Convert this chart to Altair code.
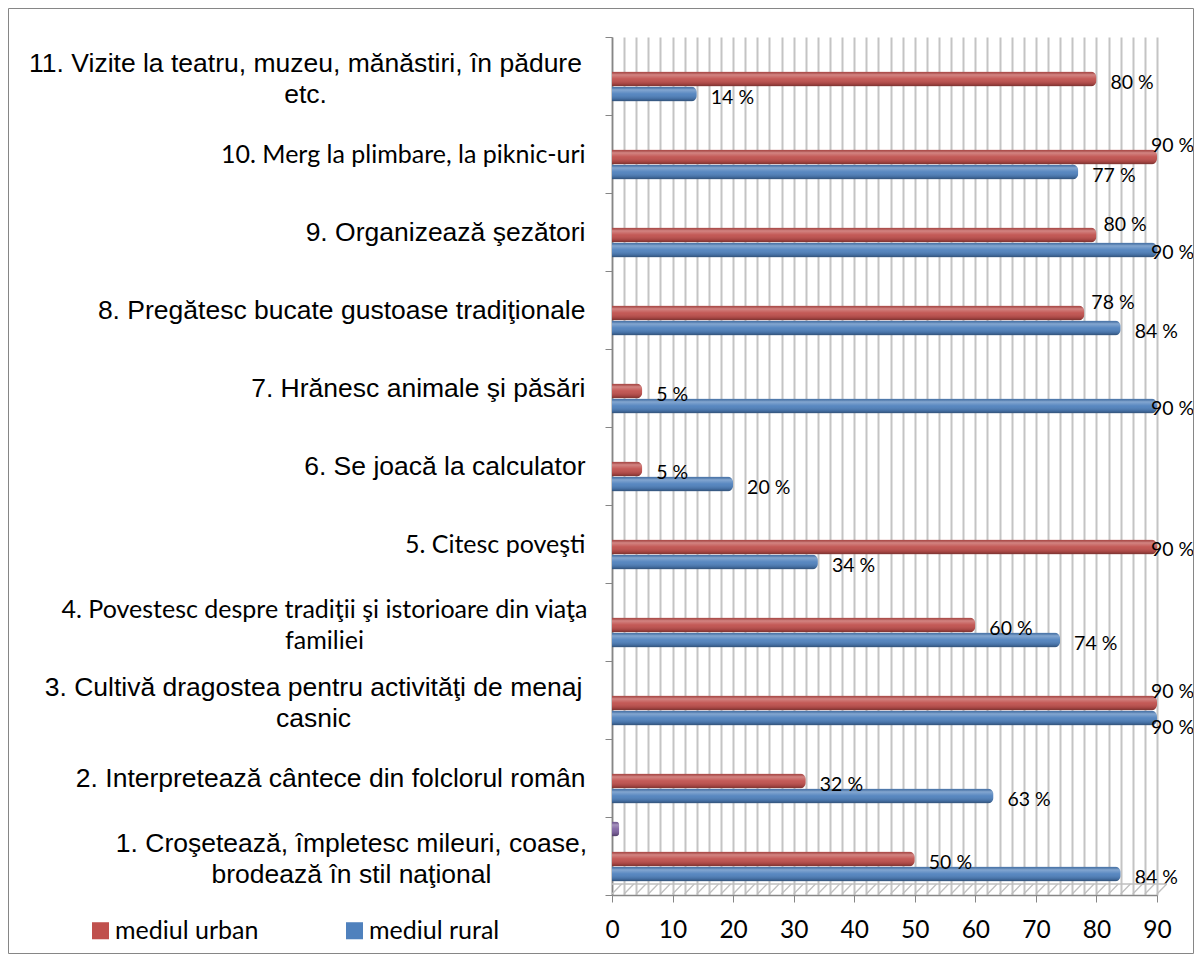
import altair as alt
import pandas as pd

categories = [
    "1. Croşetează, împletesc mileuri, coase,\nbrodează în stil naţional",
    "2. Interpretează cântece din folclorul român",
    "3. Cultivă dragostea pentru activităţi de menaj\ncasnic",
    "4. Povestesc despre tradiţii şi istorioare din viaţa\nfamiliei",
    "5. Citesc poveşti",
    "6. Se joacă la calculator",
    "7. Hrănesc animale şi păsări",
    "8. Pregătesc bucate gustoase tradiţionale",
    "9. Organizează şezători",
    "10. Merg la plimbare, la piknic-uri",
    "11. Vizite la teatru, muzeu, mănăstiri, în pădure\netc.",
]
urban = [50, 32, 90, 60, 90, 5, 5, 78, 80, 90, 80]
rural = [84, 63, 90, 74, 34, 20, 90, 84, 90, 77, 14]
extra_series = "Seria 3"
extra_category = categories[0]
extra_value = 1.2

series_names = ["mediul urban", "mediul rural"]
series_colors = ["#C0504D", "#4F81BD", "#8064A2"]
x_ticks = list(range(0, 92, 2))

rows = []
for c, u, r in zip(categories, urban, rural):
    rows.append({"cat": c, "series": series_names[0], "value": u})
    rows.append({"cat": c, "series": series_names[1], "value": r})
rows.append({"cat": extra_category, "series": extra_series, "value": extra_value})
df = pd.DataFrame(rows)

W, H = 545, 858
PAD = {"left": 604, "top": 29, "right": 37, "bottom": 59}
X_DOMAIN = [0, 90]


def starts(n):
    return f"indexof(datum.value + '', '{n}.') == 0"


calibri_test = f"{starts(10)} || {starts(5)} || {starts(4)}"
multi_test = "indexof(datum.value + '', '\\n') >= 0"

y_enc = alt.Y(
    "cat:N",
    sort=categories[::-1],
    scale=alt.Scale(paddingInner=0, paddingOuter=0),
    axis=alt.Axis(
        title=None,
        labelExpr="split(datum.label, '\\n')",
        labelLimit=0,
        tickBand="extent",
        tickSize=7,
        tickColor="#868686",
        domainColor="#868686",
        domainWidth=1.5,
        labelColor="black",
        labelLineHeight=31,
        labelFont={"condition": {"test": calibri_test, "value": "Lato"}, "value": "Liberation Sans"},
        labelFontSize={"condition": {"test": calibri_test, "value": 25}, "value": 26.5},
        labelAlign={"condition": {"test": multi_test, "value": "center"}, "value": "right"},
        labelOffset={"condition": {"test": multi_test, "value": -13}, "value": 0},
        labelPadding={
            "condition": [
                {"test": starts(11), "value": 300},
                {"test": starts(4), "value": 281},
                {"test": starts(3), "value": 292},
                {"test": starts(1), "value": 254},
            ],
            "value": 20,
        },
    ),
)

x_axis = alt.Axis(
    title=None,
    orient="bottom",
    values=x_ticks,
    grid=True,
    gridColor="#C4C4C4",
    gridWidth=2,
    labelExpr="datum.value % 10 == 0 ? datum.label : ''",
    tickOpacity={"condition": {"test": "datum.value % 10 == 0", "value": 1}, "value": 0},
    tickSize=7,
    tickColor="#868686",
    domainColor="#868686",
    domainWidth=1.5,
    labelFont="Lato",
    labelFontSize=24.5,
    labelColor="black",
    labelPadding=16,
    labelFlush=False,
    labelOverlap=False,
)
x_scale = alt.Scale(domain=X_DOMAIN, nice=False)
x_enc = alt.X("value:Q", scale=x_scale, axis=x_axis)

yoff_enc = alt.YOffset(
    "series:N",
    scale=alt.Scale(
        domain=[extra_series, "_", series_names[0], series_names[1]],
        paddingInner=0,
        paddingOuter=0.6,
        align=0.25,
    ),
)

base = alt.Chart(df).encode(x=x_enc, y=y_enc, yOffset=yoff_enc)

bars = base.mark_bar(cornerRadiusEnd=6).encode(
    color=alt.Color(
        "series:N",
        scale=alt.Scale(domain=series_names + [extra_series], range=series_colors),
        legend=alt.Legend(
            values=series_names,
            title=None,
            orient="none",
            legendX=-524,
            legendY=881,
            direction="horizontal",
            symbolType="square",
            symbolSize=290,
            symbolStrokeWidth=0,
            labelFont="Lato",
            labelFontSize=25,
            labelColor="black",
            labelOffset=2,
            columnPadding=83,
            labelLimit=0,
        ),
    ),
)

shade = base.mark_bar(
    cornerRadiusEnd=6,
    fill=alt.Gradient(
        gradient="linear",
        x1=0, y1=0, x2=0, y2=1,
        stops=[
            alt.GradientStop(offset=0, color="rgba(0,0,0,0.10)"),
            alt.GradientStop(offset=0.22, color="rgba(255,255,255,0.30)"),
            alt.GradientStop(offset=0.5, color="rgba(255,255,255,0.05)"),
            alt.GradientStop(offset=0.82, color="rgba(0,0,0,0.14)"),
            alt.GradientStop(offset=1, color="rgba(0,0,0,0.40)"),
        ],
    ),
)

lab_base = (
    base.transform_filter(f"datum.series != '{extra_series}'")
    .transform_joinaggregate(vmax="max(value)", vmin="min(value)", groupby=["cat"])
    .transform_calculate(
        label="datum.value + ' %'",
        close="datum.vmax - datum.vmin <= 13",
        eq="datum.vmax == datum.vmin",
        isu=f"datum.series == '{series_names[0]}'",
    )
)


def labels(test, dx, dy):
    return lab_base.transform_filter(test).mark_text(
        align="left", baseline="middle", font="Lato", fontSize=19.5, color="black", dx=dx, dy=dy
    ).encode(text="label:N")


lab_layers = [
    labels("datum.value < 90 && !(datum.isu && datum.close)", 14, 4),
    labels("datum.value < 90 && datum.isu && datum.close", 7, -10),
    labels("datum.value >= 90 && !(datum.isu && datum.close) && !(!datum.isu && datum.eq)", -6, 3),
    labels("datum.value >= 90 && datum.isu && datum.close", -6, -11),
    labels("datum.value >= 90 && !datum.isu && datum.eq", -6, 10),
]

# 3D floor hatch (decoration following the grid positions)
floor_df = pd.DataFrame({"value": x_ticks})
floor = alt.Chart(floor_df).transform_calculate(t2="datum.value + 1.6").mark_rule(
    color="#BFBFBF", strokeWidth=1.3
).encode(
    x=alt.X("value:Q", scale=x_scale, axis=x_axis),
    x2="t2:Q",
    y=alt.value(H - 1),
    y2=alt.value(H - 11),
)
floor_edge = alt.Chart(alt.Data(values=[{}])).mark_rule(color="#BFBFBF", strokeWidth=1.3).encode(
    x=alt.value(0), x2=alt.value(W + 10), y=alt.value(H - 11)
)

frame = alt.Chart(alt.Data(values=[{}])).mark_rect(
    fill="transparent", stroke="#868686", strokeWidth=1
).encode(
    x=alt.value(-PAD["left"] + 0.5),
    x2=alt.value(W + PAD["right"] - 0.5),
    y=alt.value(-PAD["top"] + 0.5),
    y2=alt.value(H + PAD["bottom"] - 0.5),
)

chart = (
    alt.layer(bars, shade, *lab_layers, floor, floor_edge, frame)
    .properties(
        width=W,
        height=H,
        autosize=alt.AutoSizeParams(type="none"),
        padding=PAD,
        background="white",
    )
    .configure_view(strokeWidth=0)
)

chart.save("out.html", embed_options={"renderer": "svg", "actions": False})
